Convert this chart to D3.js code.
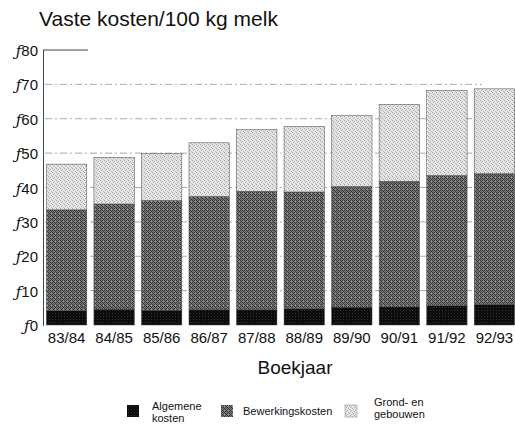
<!DOCTYPE html>
<html>
<head>
<meta charset="utf-8">
<script src="https://cdn.jsdelivr.net/npm/d3@7"></script>
<style>
  body { margin: 0; background: #fff; }
  text { font-family: "Liberation Sans", Arial, sans-serif; }
</style>
</head>
<body>
<script>
// boekjaren
const years = ["83/84", "84/85", "85/86", "86/87", "87/88", "88/89", "89/90", "90/91", "91/92", "92/93"];
// kosten in guldens per 100 kg melk
const algemeen = [4.2, 4.6, 4.3, 4.5, 4.5, 4.7, 5.2, 5.3, 5.6, 6.0];
const bewerking = [29.3, 30.6, 31.9, 32.9, 34.4, 34.0, 35.1, 36.5, 37.9, 38.0];
const grond = [13.3, 13.6, 13.7, 15.6, 18.0, 19.1, 20.6, 22.4, 24.7, 24.7];
const yTicks = [0, 10, 20, 30, 40, 50, 60, 70, 80];
const series = [
  { key: "alg", label: ["Algemene", "kosten"], values: algemeen },
  { key: "bew", label: ["Bewerkingskosten"], values: bewerking },
  { key: "gro", label: ["Grond- en", "gebouwen"], values: grond }
];

const W = 515, H = 428;
const svg = d3.select("body").append("svg").attr("width", W).attr("height", H);

// rasterpatronen
const defs = svg.append("defs");
function pattern(id, bg, dots, size) {
  const p = defs.append("pattern").attr("id", id).attr("width", size).attr("height", size)
    .attr("patternUnits", "userSpaceOnUse");
  p.append("rect").attr("width", size).attr("height", size).attr("fill", bg);
  dots.forEach(d => p.append("rect").attr("x", d[0]).attr("y", d[1]).attr("width", 1).attr("height", 1).attr("fill", d[2]));
}
pattern("p-alg", "#0c0c0c", [[1, 1, "#333"]], 3);
pattern("p-bew", "#7a7a7a", [[0, 0, "#333"], [2, 0, "#444"], [1, 1, "#2a2a2a"], [3, 1, "#999"], [0, 2, "#3a3a3a"], [2, 2, "#303030"], [1, 3, "#555"], [3, 3, "#2f2f2f"]], 4);
pattern("p-gro", "#e6e6e6", [[0, 0, "#9a9a9a"], [2, 1, "#b5b5b5"], [1, 2, "#a5a5a5"], [3, 3, "#bbb"]], 4);
const fills = { alg: "url(#p-alg)", bew: "url(#p-bew)", gro: "url(#p-gro)" };

const x = d3.scaleBand().domain(years).range([44, 517]).paddingInner(0.15).paddingOuter(0.05);
const y = d3.scaleLinear().domain([0, 80]).range([325, 50]);

// titel
svg.append("text").attr("x", 39).attr("y", 26).attr("font-size", 21).attr("fill", "#111")
  .text("Vaste kosten/100 kg melk");

// rasterlijnen
svg.append("g").selectAll("line").data(yTicks.filter(t => t > 0 && t < 80)).join("line")
  .attr("x1", 45).attr("x2", 482).attr("y1", d => y(d)).attr("y2", d => y(d))
  .attr("stroke", "#aaa").attr("stroke-width", 1).attr("stroke-dasharray", "7,3,2,3");
svg.append("line").attr("x1", 43).attr("x2", 88).attr("y1", y(80)).attr("y2", y(80))
  .attr("stroke", "#444").attr("stroke-width", 1);

// gestapelde balken
const stack = d3.stack().keys(series.map(s => s.key));
const rows = years.map((yr, i) => {
  const r = { year: yr };
  series.forEach(s => r[s.key] = s.values[i]);
  return r;
});
const layers = stack(rows);
svg.append("g").selectAll("g").data(layers).join("g")
  .attr("fill", d => fills[d.key])
  .selectAll("rect").data(d => d).join("rect")
  .attr("x", d => x(d.data.year))
  .attr("width", x.bandwidth())
  .attr("y", d => y(d[1]))
  .attr("height", d => y(d[0]) - y(d[1]))
  .attr("stroke", "#444").attr("stroke-width", 0.5);

// y-as
svg.append("line").attr("x1", 43.5).attr("x2", 43.5).attr("y1", y(80)).attr("y2", y(0) + 1)
  .attr("stroke", "#444").attr("stroke-width", 1);
const yLab = svg.append("g").selectAll("text").data(yTicks).join("text")
  .attr("x", 38).attr("y", d => y(d) + 6).attr("text-anchor", "end")
  .attr("font-size", 15).attr("fill", "#111");
yLab.append("tspan").attr("font-style", "italic").attr("font-family", "DejaVu Serif, serif").text("ƒ");
yLab.append("tspan").text(d => d);

// x-labels
svg.append("g").selectAll("text").data(years).join("text")
  .attr("x", d => x(d) + x.bandwidth() / 2).attr("y", 343).attr("text-anchor", "middle")
  .attr("font-size", 15).attr("fill", "#111").text(d => d);
svg.append("text").attr("x", 295).attr("y", 374).attr("text-anchor", "middle")
  .attr("font-size", 19).attr("fill", "#111").text("Boekjaar");

// legenda
const legX = [127, 221, 345];
const leg = svg.append("g").selectAll("g").data(series).join("g")
  .attr("transform", (d, i) => `translate(${legX[i]},405)`);
leg.append("rect").attr("width", 12).attr("height", 12).attr("fill", d => fills[d.key])
  .attr("stroke", d => d.key === "gro" ? "#888" : "none").attr("stroke-width", 0.5);
leg.each(function (d, i) {
  const g = d3.select(this);
  const tx = i === 2 ? 29 : (i === 0 ? 25 : 22);
  const t = g.append("text").attr("font-size", 11).attr("fill", "#111");
  if (d.label.length === 1) {
    t.append("tspan").attr("x", tx).attr("y", 10).text(d.label[0]);
  } else {
    d.label.forEach((l, j) => t.append("tspan").attr("x", tx).attr("y", (i === 2 ? 1 : 5) + j * 12).text(l));
  }
});
</script>
</body>
</html>
